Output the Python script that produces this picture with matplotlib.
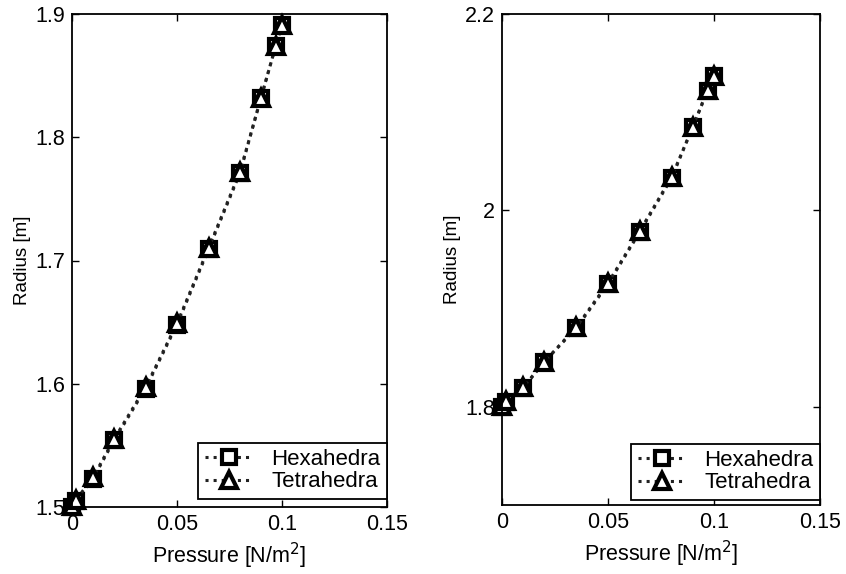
import numpy as np
import matplotlib
matplotlib.use('Agg')
import matplotlib.pyplot as plt

plt.rcParams['font.family'] = ['Liberation Sans', 'DejaVu Sans']

# pressure values (N/m^2)
pressure = [0.0, 0.002, 0.01, 0.02, 0.035, 0.05, 0.065, 0.08, 0.09, 0.097, 0.1]

# left case
hexa_left = [1.500, 1.505, 1.523, 1.554, 1.596, 1.648, 1.709, 1.771, 1.832, 1.874, 1.891]
tetra_left = [1.501, 1.506, 1.524, 1.555, 1.597, 1.649, 1.710, 1.772, 1.832, 1.874, 1.891]

# right case
hexa_right = [1.800, 1.805, 1.819, 1.846, 1.880, 1.925, 1.978, 2.033, 2.085, 2.122, 2.137]
tetra_right = [1.801, 1.806, 1.820, 1.846, 1.881, 1.926, 1.979, 2.034, 2.085, 2.123, 2.137]

labels = ['Hexahedra', 'Tetrahedra']
xticks = [0, 0.05, 0.1, 0.15]

fig = plt.figure(figsize=(8.46, 5.74), dpi=100)
ax1 = fig.add_axes([72/846, 67/574, 315/846, 493/574])
ax2 = fig.add_axes([502/846, 69/574, 318/846, 491/574])

def draw(ax, hexa, tetra, ylim, yticks, ytl, leg_y):
    ax.plot(pressure, hexa, ':', color='#222222', lw=2.2, marker='s', ms=10,
            mfc='white', mec='black', mew=3, label=labels[0], clip_on=False)
    ax.plot(pressure, tetra, ':', color='#222222', lw=2.2, marker='^', ms=11,
            mfc='white', mec='black', mew=3, label=labels[1], clip_on=False)
    ax.set_xlim(0, 0.15)
    ax.set_ylim(*ylim)
    ax.set_xticks(xticks)
    ax.set_xticklabels(['0', '0.05', '0.1', '0.15'])
    ax.set_yticks(yticks)
    ax.set_yticklabels(ytl)
    ax.tick_params(direction='in', top=True, right=True, labelsize=15.5,
                   length=5, width=1, pad=5)
    for s in ax.spines.values():
        s.set_linewidth(1.3)
    ax.set_xlabel('Pressure [N/m$^2$]', fontsize=15.5, labelpad=4)
    ax.set_ylabel('Radius [m]', fontsize=13.5, labelpad=3)
    leg = ax.legend(loc='lower right', bbox_to_anchor=(1.0, leg_y),
                    fontsize=16, handlelength=2.2,
                    fancybox=False, framealpha=1, edgecolor='black',
                    borderaxespad=0, handletextpad=0.8, labelspacing=0.05,
                    borderpad=0.3)
    leg.get_frame().set_linewidth(1.3)
    leg.set_zorder(5)

draw(ax1, hexa_left, tetra_left, (1.5, 1.9), [1.5, 1.6, 1.7, 1.8, 1.9],
     ['1.5', '1.6', '1.7', '1.8', '1.9'], 8/493)
draw(ax2, hexa_right, tetra_right, (1.7, 2.2), [1.8, 2.0, 2.2],
     ['1.8', '2', '2.2'], 5/491)

fig.savefig('out.png', dpi=100)
